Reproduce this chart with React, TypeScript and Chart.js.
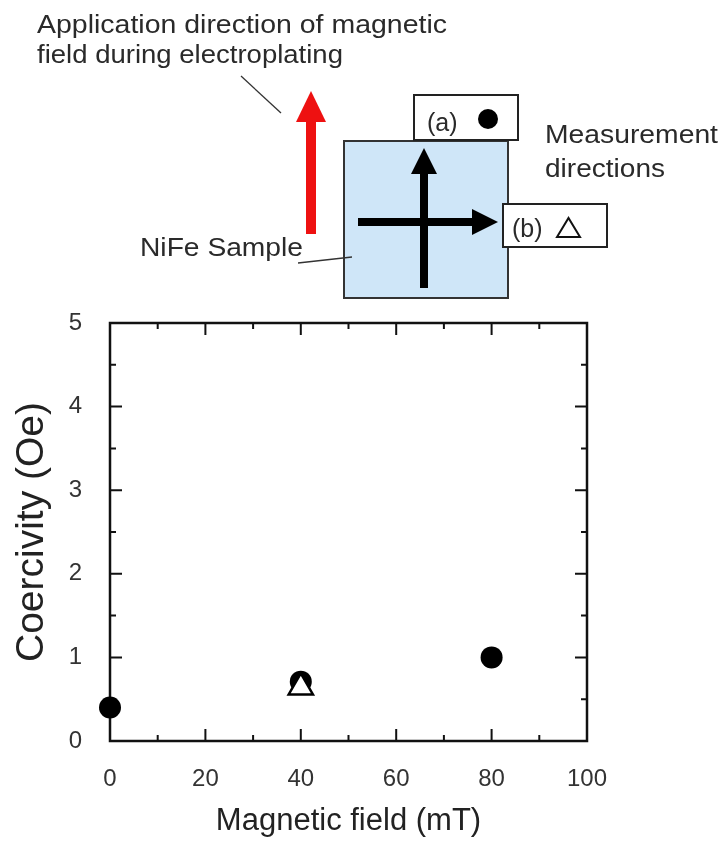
import React, { useEffect, useRef } from "react";
import { Chart, registerables } from "chart.js";

Chart.register(...registerables);

// ---- data ----
const fieldA = [0, 40, 80];
const coercivityA = [0.4, 0.71, 1.0];
const fieldB = [40];
const coercivityB = [0.64];
const xMajorTicks = [0, 20, 40, 60, 80, 100];
const xMinorTicks = [10, 30, 50, 70, 90];
const yMajorTicks = [0, 1, 2, 3, 4, 5];
const yMinorTicks = [0.5, 1.5, 2.5, 3.5, 4.5];
const xTitle = "Magnetic field (mT)";
const yTitle = "Coercivity (Oe)";

const FONT = "'Liberation Sans', Arial, Helvetica, sans-serif";

const framePlugin = {
  id: "frameTicks",
  beforeDatasetsDraw(chart: any) {
    const { ctx, chartArea: a, scales } = chart;
    const x = scales.x;
    const y = scales.y;
    ctx.save();
    ctx.strokeStyle = "#111";
    ctx.lineWidth = 2.5;
    ctx.strokeRect(a.left, a.top, a.right - a.left, a.bottom - a.top);
    ctx.lineWidth = 2;
    ctx.beginPath();
    const major = 12;
    const minor = 6;
    const xt = (v: number, len: number) => {
      const px = x.getPixelForValue(v);
      ctx.moveTo(px, a.bottom);
      ctx.lineTo(px, a.bottom - len);
      ctx.moveTo(px, a.top);
      ctx.lineTo(px, a.top + len);
    };
    const yt = (v: number, len: number) => {
      const py = y.getPixelForValue(v);
      ctx.moveTo(a.left, py);
      ctx.lineTo(a.left + len, py);
      ctx.moveTo(a.right, py);
      ctx.lineTo(a.right - len, py);
    };
    xMajorTicks.forEach((v) => xt(v, major));
    xMinorTicks.forEach((v) => xt(v, minor));
    yMajorTicks.forEach((v) => yt(v, major));
    yMinorTicks.forEach((v) => yt(v, minor));
    ctx.stroke();
    ctx.restore();
  },
};

function Diagram() {
  const txt = { fontFamily: FONT, fontSize: 25, fill: "#2a2a2a" } as any;
  return (
    <svg
      width={727}
      height={320}
      style={{ position: "absolute", left: 0, top: 0 }}
    >
      <text x={37} y={33} {...txt} textLength={410} lengthAdjust="spacingAndGlyphs">
        Application direction of magnetic
      </text>
      <text x={37} y={63} {...txt} textLength={306} lengthAdjust="spacingAndGlyphs">
        field during electroplating
      </text>
      <line x1={241} y1={76} x2={281} y2={113} stroke="#333" strokeWidth={1.3} />
      {/* red arrow */}
      <rect x={306} y={118} width={10} height={116} fill="#ee1111" />
      <polygon points="296,122 311,91 326,122" fill="#ee1111" />
      {/* sample */}
      <rect x={344} y={141} width={164} height={157} fill="#cfe6f8" stroke="#333" strokeWidth={2} />
      {/* (a) box */}
      <rect x={414} y={95} width={104} height={45} fill="#fff" stroke="#222" strokeWidth={2} />
      <text x={427} y={131} {...txt}>(a)</text>
      <circle cx={488} cy={119} r={10} fill="#000" />
      {/* vertical arrow */}
      <rect x={420} y={170} width={8} height={118} fill="#000" />
      <polygon points="411,174 424,148 437,174" fill="#000" />
      {/* horizontal arrow */}
      <rect x={358} y={218} width={118} height={8} fill="#000" />
      <polygon points="472,209 498,222 472,235" fill="#000" />
      {/* (b) box */}
      <rect x={503} y={204} width={104} height={43} fill="#fff" stroke="#222" strokeWidth={2} />
      <text x={512} y={237} {...txt}>(b)</text>
      <polygon points="557,237 568.5,218 580,237" fill="none" stroke="#111" strokeWidth={2} />
      {/* measurement text */}
      <text x={545} y={143} {...txt} textLength={173} lengthAdjust="spacingAndGlyphs">
        Measurement
      </text>
      <text x={545} y={177} {...txt} textLength={120} lengthAdjust="spacingAndGlyphs">
        directions
      </text>
      {/* NiFe sample */}
      <text x={140} y={256} {...txt} textLength={163} lengthAdjust="spacingAndGlyphs">
        NiFe Sample
      </text>
      <line x1={298} y1={263} x2={352} y2={257} stroke="#333" strokeWidth={1.3} />
    </svg>
  );
}

export default function App() {
  const ref = useRef<HTMLCanvasElement | null>(null);

  useEffect(() => {
    if (!ref.current) return;
    Chart.defaults.font.family = FONT;
    const chart = new Chart(ref.current, {
      type: "scatter",
      data: {
        datasets: [
          {
            label: "(a)",
            data: fieldA.map((v, i) => ({ x: v, y: coercivityA[i] })),
            pointStyle: "circle",
            pointRadius: 11,
            backgroundColor: "#000",
            borderColor: "#000",
            borderWidth: 0,
            clip: false as any,
            order: 1,
          },
          {
            label: "(b)",
            data: fieldB.map((v, i) => ({ x: v, y: coercivityB[i] })),
            pointStyle: "triangle",
            pointRadius: 14,
            backgroundColor: "#fff",
            borderColor: "#000",
            borderWidth: 2.5,
            clip: false as any,
            order: 0,
          },
        ],
      },
      options: {
        responsive: false,
        devicePixelRatio: 1,
        animation: false,
        events: [],
        layout: { padding: { left: 0, top: 323, right: 140, bottom: 0 } },
        plugins: { legend: { display: false }, tooltip: { enabled: false } },
        scales: {
          x: {
            type: "linear",
            min: 0,
            max: 100,
            afterBuildTicks: (s: any) => {
              s.ticks = xMajorTicks.map((v) => ({ value: v }));
            },
            afterFit: (s: any) => {
              s.height = 111;
            },
            grid: { display: false, drawTicks: false },
            border: { display: false },
            ticks: { font: { size: 24 }, color: "#333", padding: 24, maxRotation: 0 },
            title: {
              display: true,
              text: xTitle,
              font: { size: 31 },
              color: "#222",
              padding: { top: 0, bottom: 12 },
            },
          },
          y: {
            type: "linear",
            min: 0,
            max: 5,
            afterBuildTicks: (s: any) => {
              s.ticks = yMajorTicks.map((v) => ({ value: v }));
            },
            afterFit: (s: any) => {
              s.width = 110;
            },
            grid: { display: false, drawTicks: false },
            border: { display: false },
            ticks: { font: { size: 24 }, color: "#333", padding: 28 },
            title: {
              display: true,
              text: yTitle,
              font: { size: 39 },
              color: "#222",
              padding: { top: 9, bottom: 0 },
            },
          },
        },
      },
      plugins: [framePlugin],
    } as any);
    return () => chart.destroy();
  }, []);

  return (
    <div style={{ position: "absolute", left: 0, top: 0, width: 727, height: 852, background: "#fff" }}>
      <canvas ref={ref} width={727} height={852} style={{ position: "absolute", left: 0, top: 0 }} />
      <Diagram />
    </div>
  );
}
